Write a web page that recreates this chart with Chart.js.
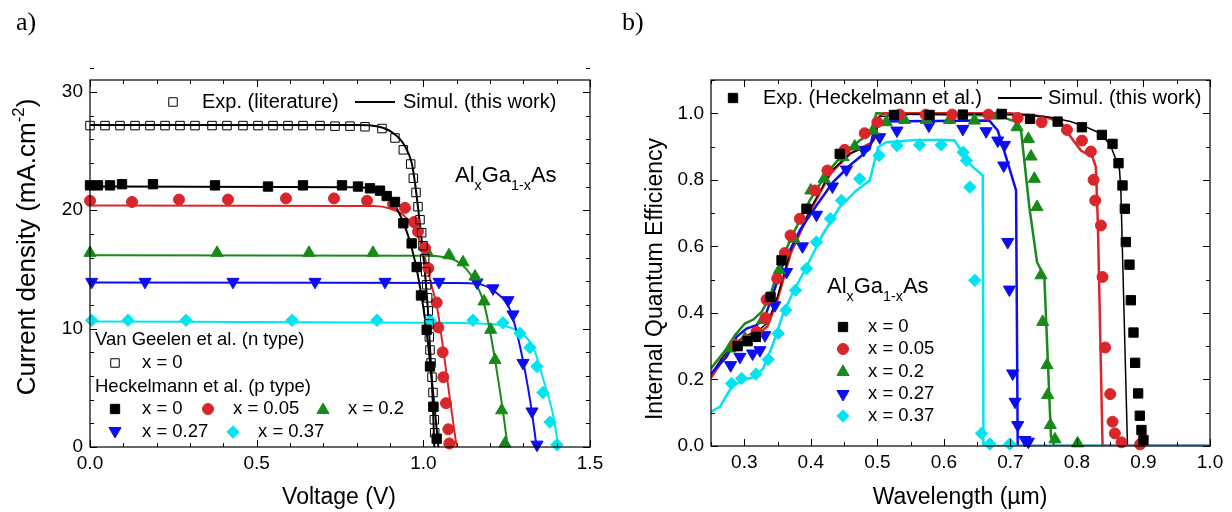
<!DOCTYPE html>
<html>
<head>
<meta charset="utf-8">
<title>AlGaAs J-V and IQE</title>
<script src="https://cdn.jsdelivr.net/npm/chart.js@4"></script>
<style>
  body { margin: 0; background: #fff; }
  #wrap { position: relative; width: 1232px; height: 512px; overflow: hidden; }
  canvas { position: absolute; top: 0; }
  .tag { position: absolute; top: 9px; font: 26px "Liberation Serif", "Times New Roman", serif; line-height: 1; color: #000; }
</style>
</head>
<body>
<div id="wrap">
  <canvas id="jv" width="616" height="512" style="left:0"></canvas>
  <canvas id="iqe" width="616" height="512" style="left:616px"></canvas>
  <div class="tag" style="left:16px">a)</div>
  <div class="tag" style="left:622px">b)</div>
</div>
<script>
const FONT = '"Liberation Sans", Arial, Helvetica, sans-serif';
Chart.defaults.font.family = FONT;
Chart.defaults.color = '#000';

// ---------- a) J-V curves ----------
const jvXTicks = [0, 0.5, 1.0, 1.5];
const jvXLabels = ['0.0', '0.5', '1.0', '1.5'];
const jvYTicks = [0, 10, 20, 30];
const jvYLabels = ['0', '10', '20', '30'];

// Van Geelen (n type), x = 0, open squares
const litExpV = [0, 0.045, 0.09, 0.135, 0.18, 0.225, 0.27, 0.315, 0.366, 0.411, 0.459, 0.504, 0.549, 0.594, 0.639, 0.69, 0.735, 0.78, 0.825, 0.876, 0.915, 0.94, 0.962, 0.97, 0.978, 0.984, 0.99, 0.995, 0.999, 1.004, 1.007, 1.01, 1.013, 1.015, 1.017, 1.018, 1.02, 1.023, 1.026, 1.029, 1.031, 1.033, 1.034];
const litExpJ = [27.15, 27.15, 27.15, 27.15, 27.15, 27.15, 27.15, 27.15, 27.15, 27.15, 27.15, 27.15, 27.15, 27.15, 27.15, 27.15, 27.1, 27.1, 27.05, 26.9, 26.1, 25.1, 23.9, 22.7, 21.5, 20.3, 19.2, 18.1, 17.0, 15.9, 14.8, 13.7, 12.6, 11.5, 10.4, 9.3, 8.2, 7.1, 5.9, 4.6, 3.4, 2.3, 1.2];
const litSimV = [0, 0.8, 0.86, 0.885, 0.91, 0.93, 0.945, 0.965, 0.975, 0.985, 0.995, 1.005, 1.015, 1.022, 1.028, 1.033];
const litSimJ = [27.2, 27.2, 27.1, 26.9, 26.5, 26.0, 25.4, 24.0, 22.3, 20.0, 17.5, 14.7, 11.0, 7.35, 4.0, 0];

// Heckelmann (p type)
const h0ExpV = [0, 0.024, 0.06, 0.096, 0.189, 0.375, 0.534, 0.639, 0.756, 0.804, 0.84, 0.87, 0.89, 0.915, 0.94, 0.965, 0.98, 0.993, 1.01, 1.02, 1.03, 1.04];
const h0ExpJ = [22.1, 22.1, 22.1, 22.2, 22.2, 22.1, 22.0, 22.1, 22.1, 22.0, 21.85, 21.65, 21.2, 20.7, 18.9, 17.2, 15.2, 12.8, 9.9, 6.8, 3.4, 0.7];
const h0SimV = [0, 0.8, 0.85, 0.88, 0.91, 0.935, 0.955, 0.975, 0.99, 1.005, 1.02, 1.035, 1.045];
const h0SimJ = [22.0, 21.95, 21.8, 21.4, 20.6, 19.3, 17.8, 15.7, 13.5, 10.8, 7.2, 3.0, 0];

const h05ExpV = [0, 0.126, 0.267, 0.414, 0.588, 0.732, 0.831, 0.909, 0.945, 0.972, 0.984, 1.005, 1.015, 1.04, 1.045, 1.058, 1.06, 1.068, 1.075, 1.078];
const h05ExpJ = [20.8, 20.7, 20.9, 20.9, 21.0, 21.0, 20.8, 20.5, 20.2, 19.0, 18.2, 16.8, 15.1, 12.2, 10.1, 8.0, 5.9, 3.7, 1.5, 0.3];
const h05SimV = [0, 0.85, 0.9, 0.94, 0.97, 0.99, 1.01, 1.025, 1.04, 1.06, 1.08, 1.1];
const h05SimJ = [20.4, 20.35, 20.15, 19.6, 18.6, 17.3, 15.4, 13.6, 12.0, 8.2, 4.0, 0];

const h20ExpV = [0, 0.381, 0.657, 0.849, 1.011, 1.077, 1.119, 1.155, 1.182, 1.202, 1.215, 1.235, 1.245];
const h20ExpJ = [16.4, 16.4, 16.4, 16.4, 16.5, 16.2, 15.6, 14.4, 12.3, 9.9, 7.35, 3.1, 0.3];
const h20SimV = [0, 1.0, 1.06, 1.1, 1.13, 1.16, 1.18, 1.2, 1.22, 1.24, 1.253];
const h20SimJ = [16.2, 16.15, 16.05, 15.7, 15.0, 13.7, 12.3, 9.8, 6.5, 2.8, 0];

const h27ExpV = [0.005, 0.165, 0.429, 0.675, 0.885, 1.047, 1.161, 1.209, 1.254, 1.269, 1.299, 1.326, 1.341];
const h27ExpJ = [13.95, 13.95, 13.95, 13.95, 13.95, 13.95, 13.9, 13.4, 12.4, 11.2, 7.1, 3.0, 0.2];
const h27SimV = [0, 1.1, 1.16, 1.22, 1.26, 1.29, 1.32, 1.34];
const h27SimJ = [13.9, 13.85, 13.8, 13.0, 11.6, 8.5, 4.0, 0];

const h37ExpV = [0.005, 0.114, 0.288, 0.606, 0.861, 1.02, 1.149, 1.239, 1.29, 1.32, 1.341, 1.359, 1.38, 1.401];
const h37ExpJ = [10.7, 10.7, 10.7, 10.7, 10.7, 10.7, 10.7, 10.5, 9.6, 8.4, 6.8, 4.6, 2.1, 0.2];
const h37SimV = [0, 1.0, 1.2, 1.27, 1.3, 1.33, 1.36, 1.39, 1.405];
const h37SimJ = [10.6, 10.5, 10.4, 10.0, 9.5, 8.4, 5.7, 2.6, 0];

// ---------- b) internal quantum efficiency ----------
const qeXTicks = [0.3, 0.4, 0.5, 0.6, 0.7, 0.8, 0.9, 1.0];
const qeXLabels = ['0.3', '0.4', '0.5', '0.6', '0.7', '0.8', '0.9', '1.0'];
const qeYTicks = [0, 0.2, 0.4, 0.6, 0.8, 1.0];
const qeYLabels = ['0.0', '0.2', '0.4', '0.6', '0.8', '1.0'];

const q0ExpW = [0.29, 0.305, 0.3175, 0.3395, 0.356, 0.3935, 0.4435, 0.525, 0.5785, 0.6285, 0.687, 0.7295, 0.771, 0.8075, 0.8375, 0.8535, 0.8625, 0.8685, 0.872, 0.8735, 0.879, 0.881, 0.885, 0.8875, 0.892, 0.8945, 0.897, 0.9];
const q0ExpQ = [0.30, 0.315, 0.328, 0.448, 0.558, 0.713, 0.878, 0.995, 0.995, 0.996, 0.998, 0.983, 0.975, 0.958, 0.935, 0.908, 0.85, 0.783, 0.713, 0.613, 0.545, 0.438, 0.341, 0.25, 0.158, 0.091, 0.048, 0.018];
const q0SimW = [0.25, 0.265, 0.28, 0.30, 0.32, 0.335, 0.35, 0.37, 0.40, 0.43, 0.46, 0.49, 0.497, 0.503, 0.55, 0.65, 0.72, 0.76, 0.79, 0.81, 0.835, 0.85, 0.858, 0.864, 0.866, 0.876, 1.0];
const q0SimQ = [0.215, 0.26, 0.30, 0.33, 0.345, 0.37, 0.45, 0.59, 0.715, 0.825, 0.88, 0.905, 0.93, 0.99, 0.997, 0.997, 0.995, 0.988, 0.975, 0.962, 0.94, 0.905, 0.865, 0.83, 0.77, 0, 0];

const q05ExpW = [0.2875, 0.3035, 0.3185, 0.332, 0.3335, 0.3495, 0.361, 0.3695, 0.3835, 0.406, 0.425, 0.451, 0.481, 0.50, 0.5335, 0.5725, 0.6125, 0.667, 0.711, 0.747, 0.785, 0.8075, 0.821, 0.825, 0.8275, 0.836, 0.8385, 0.8425, 0.85, 0.8535, 0.857, 0.867, 0.895];
const q05ExpQ = [0.303, 0.318, 0.343, 0.385, 0.44, 0.503, 0.58, 0.633, 0.683, 0.768, 0.828, 0.89, 0.94, 0.973, 0.996, 0.996, 0.996, 0.996, 0.986, 0.973, 0.95, 0.918, 0.885, 0.8, 0.738, 0.663, 0.508, 0.296, 0.156, 0.073, 0.038, 0.011, 0.005];
const q05SimW = [0.25, 0.265, 0.28, 0.30, 0.32, 0.335, 0.35, 0.37, 0.40, 0.43, 0.46, 0.49, 0.495, 0.503, 0.51, 0.70, 0.75, 0.776, 0.791, 0.806, 0.8235, 0.8285, 0.8315, 0.8385, 1.0];
const q05SimQ = [0.205, 0.25, 0.29, 0.32, 0.335, 0.36, 0.44, 0.58, 0.71, 0.82, 0.88, 0.91, 0.92, 0.99, 1.0, 1.0, 0.99, 0.973, 0.928, 0.888, 0.868, 0.838, 0.668, 0, 0];

const q20ExpW = [0.2785, 0.301, 0.316, 0.3275, 0.336, 0.3525, 0.3745, 0.40, 0.42, 0.4485, 0.466, 0.4935, 0.5135, 0.541, 0.5735, 0.6085, 0.646, 0.681, 0.71, 0.727, 0.731, 0.736, 0.74, 0.746, 0.7485, 0.755, 0.756, 0.76, 0.767, 0.801];
const q20ExpQ = [0.293, 0.323, 0.333, 0.378, 0.443, 0.528, 0.623, 0.768, 0.803, 0.868, 0.9, 0.948, 0.973, 0.98, 0.98, 0.98, 0.978, 0.993, 0.958, 0.923, 0.87, 0.803, 0.718, 0.513, 0.373, 0.243, 0.153, 0.063, 0.02, 0.008];
const q20SimW = [0.25, 0.2735, 0.286, 0.301, 0.3135, 0.326, 0.3385, 0.3535, 0.3735, 0.3985, 0.4235, 0.4485, 0.4735, 0.4895, 0.4985, 0.671, 0.691, 0.711, 0.716, 0.7285, 0.74, 0.751, 0.761, 0.766, 1.0];
const q20SimQ = [0.233, 0.293, 0.333, 0.368, 0.38, 0.403, 0.448, 0.548, 0.638, 0.738, 0.818, 0.878, 0.918, 0.938, 1.0, 0.993, 0.986, 0.973, 0.948, 0.718, 0.553, 0.508, 0.028, 0, 0];

const q27ExpW = [0.2795, 0.2935, 0.3125, 0.3235, 0.331, 0.346, 0.3635, 0.3875, 0.4085, 0.4325, 0.4535, 0.4795, 0.5035, 0.5295, 0.5775, 0.6285, 0.6635, 0.681, 0.691, 0.69, 0.696, 0.6985, 0.7035, 0.707, 0.711, 0.722, 0.727];
const q27ExpQ = [0.243, 0.268, 0.278, 0.288, 0.333, 0.423, 0.523, 0.60, 0.695, 0.78, 0.831, 0.89, 0.928, 0.948, 0.963, 0.953, 0.946, 0.918, 0.905, 0.843, 0.613, 0.47, 0.218, 0.133, 0.063, 0.018, 0.013];
const q27SimW = [0.25, 0.2735, 0.2885, 0.3035, 0.3185, 0.331, 0.3435, 0.3585, 0.3835, 0.4085, 0.4335, 0.4585, 0.4885, 0.496, 0.4995, 0.6685, 0.681, 0.6935, 0.7085, 0.711, 1.0];
const q27SimQ = [0.218, 0.268, 0.328, 0.353, 0.363, 0.388, 0.458, 0.548, 0.648, 0.723, 0.793, 0.843, 0.893, 0.958, 0.975, 0.978, 0.948, 0.868, 0.768, 0, 0];

const q37ExpW = [0.281, 0.296, 0.3175, 0.336, 0.351, 0.3625, 0.377, 0.3935, 0.4085, 0.4295, 0.446, 0.4735, 0.5025, 0.5295, 0.5635, 0.596, 0.629, 0.634, 0.639, 0.6465, 0.6565, 0.669, 0.699];
const q37ExpQ = [0.188, 0.203, 0.216, 0.26, 0.338, 0.408, 0.468, 0.533, 0.613, 0.683, 0.738, 0.803, 0.873, 0.903, 0.905, 0.905, 0.883, 0.858, 0.778, 0.498, 0.038, 0.006, 0.006];
const q37SimW = [0.25, 0.2635, 0.281, 0.2985, 0.316, 0.3285, 0.3435, 0.3585, 0.3735, 0.3935, 0.4185, 0.4435, 0.4685, 0.4885, 0.501, 0.5135, 0.5585, 0.6035, 0.616, 0.626, 0.641, 0.6585, 0.6595, 1.0];
const q37SimQ = [0.103, 0.118, 0.178, 0.198, 0.208, 0.233, 0.308, 0.398, 0.463, 0.538, 0.638, 0.718, 0.768, 0.798, 0.898, 0.913, 0.92, 0.92, 0.918, 0.888, 0.843, 0.813, 0, 0];

// ---------- styles ----------
const BLACK = '#000000', RED = '#d8262a', GREEN = '#178a1a', BLUE = '#0c0cf5', CYAN = '#00e4f0';
const mkOpen = {style: 'rect', r: 6, fill: 'rgba(0,0,0,0)', color: BLACK, bw: 1};
const mkSq = {style: 'rect', r: 6.6, fill: BLACK, color: BLACK, bw: 1};
const mkCirc = {style: 'circle', r: 5.5, fill: RED, color: RED, bw: 1};
const mkUp = {style: 'triangle', r: 7, fill: GREEN, color: GREEN, bw: 1};
const mkDown = {style: 'triangle', r: 7, rot: 180, fill: BLUE, color: BLUE, bw: 1};
const mkDia = {style: 'rectRot', r: 6.2, fill: CYAN, color: CYAN, bw: 1};

function pts(xs, ys) { return xs.map((v, i) => ({x: v, y: ys[i]})); }

function markerSet(label, xs, ys, m) {
  return {label: label, data: pts(xs, ys), showLine: false, clip: false,
    pointStyle: m.style, pointRadius: m.r, pointHoverRadius: m.r, pointRotation: m.rot || 0,
    pointBackgroundColor: m.fill, pointBorderColor: m.color, pointBorderWidth: m.bw};
}
function lineSet(label, xs, ys, color, w, smooth) {
  return {label: label, data: pts(xs, ys), showLine: true, pointRadius: 0, pointHoverRadius: 0,
    borderColor: color, borderWidth: w, fill: false,
    cubicInterpolationMode: smooth ? 'monotone' : 'default', tension: 0};
}

function marker(ctx, m, x, y) {
  ctx.save();
  ctx.fillStyle = m.fill; ctx.strokeStyle = m.color; ctx.lineWidth = m.bw;
  Chart.helpers.drawPoint(ctx, {pointStyle: m.style, radius: m.r, rotation: m.rot || 0, borderWidth: m.bw}, x, y);
  ctx.restore();
}
function text(ctx, s, x, y, size) {
  ctx.font = size + 'px ' + FONT;
  ctx.fillText(s, x, y);
}
// parts: [string, 0 normal | 1 subscript | -1 superscript]
function rich(ctx, parts, x, y, size, align) {
  const sz = p => p[1] ? size * 0.65 : size;
  let w = 0;
  parts.forEach(p => { ctx.font = sz(p) + 'px ' + FONT; w += ctx.measureText(p[0]).width; });
  let cx = align === 'center' ? x - w / 2 : x;
  parts.forEach(p => {
    ctx.font = sz(p) + 'px ' + FONT;
    const dy = p[1] === 1 ? size * 0.36 : (p[1] === -1 ? -size * 0.42 : 0);
    ctx.fillText(p[0], cx, y + dy);
    cx += ctx.measureText(p[0]).width;
  });
}
function vtitle(ctx, parts, x, y, size) {
  ctx.save();
  ctx.translate(x, y);
  ctx.rotate(-Math.PI / 2);
  ctx.textBaseline = 'alphabetic';
  rich(ctx, parts, 0, 0, size, 'center');
  ctx.restore();
}

// box + inward ticks on all four sides
function makeFrame(f) {
  return {
    id: 'frame',
    afterDatasetsDraw(chart) {
      const {ctx, chartArea: a} = chart;
      const sx = chart.scales.x, sy = chart.scales.y;
      const isMaj = (list, v) => list.some(m => Math.abs(m - v) < 1e-6);
      ctx.save();
      ctx.strokeStyle = '#000';
      ctx.lineWidth = 1;
      ctx.beginPath();
      const nx = Math.round((sx.max - f.xFrom) / f.xStep);
      for (let i = 0; i <= nx; i++) {
        const v = f.xFrom + i * f.xStep;
        const len = isMaj(f.xMajor, v) ? 7 : 4;
        const px = Math.round(sx.getPixelForValue(v)) + 0.5;
        ctx.moveTo(px, a.bottom); ctx.lineTo(px, a.bottom - len);
        ctx.moveTo(px, a.top); ctx.lineTo(px, a.top + len);
      }
      const ny = Math.round((sy.max - f.yFrom) / f.yStep);
      for (let i = 0; i <= ny; i++) {
        const v = f.yFrom + i * f.yStep;
        const len = isMaj(f.yMajor, v) ? 7 : 4;
        const py = Math.round(sy.getPixelForValue(v)) + 0.5;
        ctx.moveTo(a.left, py); ctx.lineTo(a.left + len, py);
        ctx.moveTo(a.right, py); ctx.lineTo(a.right - len, py);
      }
      ctx.stroke();
      ctx.lineWidth = 1.2;
      ctx.strokeRect(a.left, a.top, a.right - a.left, a.bottom - a.top);
      ctx.restore();
    }
  };
}

function axes(xr, yr, xTicks, xLabels, yTicks, yLabels, yW, xH) {
  return {
    x: {type: 'linear', min: xr[0], max: xr[1],
      grid: {display: false, drawTicks: false}, border: {display: false},
      afterBuildTicks: s => { s.ticks = xTicks.map(v => ({value: v})); },
      afterFit: s => { s.height = xH; },
      ticks: {autoSkip: false, maxRotation: 0, padding: 5, font: {size: 19},
        callback: (v, i) => xLabels[i]}},
    y: {type: 'linear', min: yr[0], max: yr[1],
      grid: {display: false, drawTicks: false}, border: {display: false},
      afterBuildTicks: s => { s.ticks = yTicks.map(v => ({value: v})); },
      afterFit: s => { s.width = yW; },
      ticks: {autoSkip: false, padding: 7, font: {size: 19},
        callback: (v, i) => yLabels[i]}}
  };
}

const common = {
  responsive: false, animation: false, events: [],
  plugins: {legend: {display: false}, tooltip: {enabled: false}}
};

// ---------- chart a) ----------
const jvText = {
  id: 'jvText',
  afterDraw(chart) {
    const ctx = chart.ctx;
    ctx.save();
    ctx.fillStyle = '#000';
    ctx.textBaseline = 'middle';
    marker(ctx, mkOpen, 173, 102);
    text(ctx, 'Exp. (literature)', 202, 102, 20);
    ctx.strokeStyle = BLACK; ctx.lineWidth = 2;
    ctx.beginPath(); ctx.moveTo(355, 102); ctx.lineTo(395, 102); ctx.stroke();
    text(ctx, 'Simul. (this work)', 403, 102, 20);

    text(ctx, 'Van Geelen et al. (n type)', 95, 340, 18.5);
    marker(ctx, mkOpen, 115, 363); text(ctx, 'x = 0', 142, 363, 18.5);
    text(ctx, 'Heckelmann et al. (p type)', 95, 387, 18.5);
    marker(ctx, mkSq, 115, 409); text(ctx, 'x = 0', 142, 409, 18.5);
    marker(ctx, mkCirc, 208, 409); text(ctx, 'x = 0.05', 233, 409, 18.5);
    marker(ctx, mkUp, 323, 410); text(ctx, 'x = 0.2', 348, 409, 18.5);
    marker(ctx, mkDown, 115, 431); text(ctx, 'x = 0.27', 142, 432, 18.5);
    marker(ctx, mkDia, 233, 432); text(ctx, 'x = 0.37', 258, 432, 18.5);

    ctx.textAlign = 'center';
    text(ctx, 'Voltage (V)', 339, 498, 23);
    ctx.textAlign = 'left';
    ctx.textBaseline = 'alphabetic';
    rich(ctx, [['Al', 0], ['x', 1], ['Ga', 0], ['1-x', 1], ['As', 0]], 455, 182, 22);
    vtitle(ctx, [['Current density (mA.cm', 0], ['-2', -1], [')', 0]], 35, 247, 26);
    ctx.restore();
  }
};

new Chart(document.getElementById('jv'), {
  type: 'scatter',
  data: {datasets: [
    markerSet('Van Geelen x=0', litExpV, litExpJ, mkOpen),
    markerSet('x=0', h0ExpV, h0ExpJ, mkSq),
    markerSet('x=0.05', h05ExpV, h05ExpJ, mkCirc),
    markerSet('x=0.2', h20ExpV, h20ExpJ, mkUp),
    markerSet('x=0.27', h27ExpV, h27ExpJ, mkDown),
    markerSet('x=0.37', h37ExpV, h37ExpJ, mkDia),
    lineSet('sim lit', litSimV, litSimJ, BLACK, 2, true),
    lineSet('sim x=0', h0SimV, h0SimJ, BLACK, 2, true),
    lineSet('sim x=0.05', h05SimV, h05SimJ, RED, 2, true),
    lineSet('sim x=0.2', h20SimV, h20SimJ, GREEN, 2, true),
    lineSet('sim x=0.27', h27SimV, h27SimJ, BLUE, 2, true),
    lineSet('sim x=0.37', h37SimV, h37SimJ, CYAN, 2, true)
  ]},
  options: Object.assign({}, common, {
    layout: {padding: {top: 80, right: 26, left: 0, bottom: 0}},
    scales: axes([0, 1.5], [0, 31], jvXTicks, jvXLabels, jvYTicks, jvYLabels, 90, 65)
  }),
  plugins: [makeFrame({xFrom: 0, xStep: 0.1, xMajor: jvXTicks, yFrom: 0, yStep: 2, yMajor: jvYTicks}), jvText]
});

// ---------- chart b) ----------
const qeText = {
  id: 'qeText',
  afterDraw(chart) {
    const ctx = chart.ctx;
    ctx.save();
    ctx.fillStyle = '#000';
    ctx.textBaseline = 'middle';
    marker(ctx, mkSq, 117, 98);
    text(ctx, 'Exp. (Heckelmann et al.)', 147, 98, 20);
    ctx.strokeStyle = BLACK; ctx.lineWidth = 2;
    ctx.beginPath(); ctx.moveTo(382, 98); ctx.lineTo(426, 98); ctx.stroke();
    text(ctx, 'Simul. (this work)', 432, 98, 20);

    const rows = [[mkSq, 'x = 0', 327], [mkCirc, 'x = 0.05', 349], [mkUp, 'x = 0.2', 372],
                  [mkDown, 'x = 0.27', 394], [mkDia, 'x = 0.37', 416]];
    rows.forEach(r => { marker(ctx, r[0], 227, r[2]); text(ctx, r[1], 252, r[2], 18.5); });

    ctx.textAlign = 'center';
    text(ctx, 'Wavelength (\u00b5m)', 344, 498, 23);
    ctx.textAlign = 'left';
    ctx.textBaseline = 'alphabetic';
    rich(ctx, [['Al', 0], ['x', 1], ['Ga', 0], ['1-x', 1], ['As', 0]], 211, 293, 22);
    vtitle(ctx, [['Internal Quantum Efficiency', 0]], 46, 279, 23);
    ctx.restore();
  }
};

new Chart(document.getElementById('iqe'), {
  type: 'scatter',
  data: {datasets: [
    markerSet('x=0', q0ExpW, q0ExpQ, mkSq),
    markerSet('x=0.05', q05ExpW, q05ExpQ, mkCirc),
    markerSet('x=0.2', q20ExpW, q20ExpQ, mkUp),
    markerSet('x=0.27', q27ExpW, q27ExpQ, mkDown),
    markerSet('x=0.37', q37ExpW, q37ExpQ, mkDia),
    lineSet('sim x=0.37', q37SimW, q37SimQ, CYAN, 2.5, false),
    lineSet('sim x=0.27', q27SimW, q27SimQ, BLUE, 2.5, false),
    lineSet('sim x=0', q0SimW, q0SimQ, BLACK, 1.5, false),
    lineSet('sim x=0.05', q05SimW, q05SimQ, RED, 2.5, false),
    lineSet('sim x=0.2', q20SimW, q20SimQ, GREEN, 2.5, false)
  ]},
  options: Object.assign({}, common, {
    layout: {padding: {top: 80, right: 22, left: 0, bottom: 0}},
    scales: axes([0.25, 1.0], [0, 1.1], qeXTicks, qeXLabels, qeYTicks, qeYLabels, 95, 66)
  }),
  plugins: [makeFrame({xFrom: 0.25, xStep: 0.05, xMajor: qeXTicks, yFrom: 0, yStep: 0.1, yMajor: qeYTicks}), qeText]
});
</script>
</body>
</html>
